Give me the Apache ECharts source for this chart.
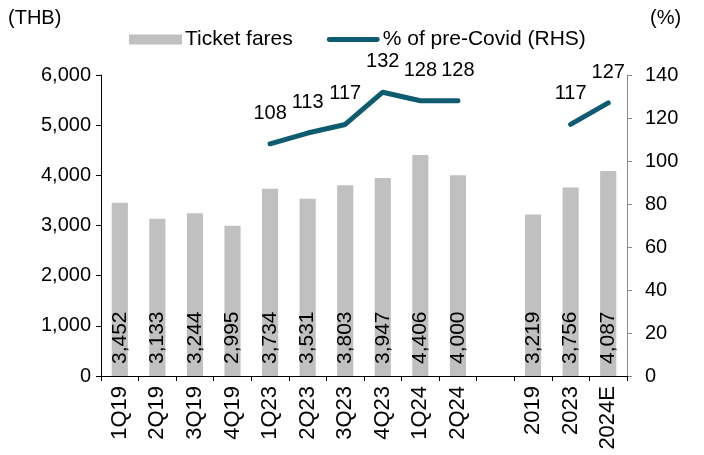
<!DOCTYPE html>
<html>
<head>
<meta charset="utf-8">
<script src="https://cdn.jsdelivr.net/npm/echarts@6/dist/echarts.min.js"></script>
<style>
  html, body { margin: 0; padding: 0; background: #fff; }
  #main { width: 704px; height: 455px; }
</style>
</head>
<body>
<div id="main"></div>
<script>
var categories = ['1Q19', '2Q19', '3Q19', '4Q19', '1Q23', '2Q23', '3Q23', '4Q23', '1Q24', '2Q24', '', '2019', '2023', '2024E'];
var ticketFares = [3452, 3133, 3244, 2995, 3734, 3531, 3803, 3947, 4406, 4000, null, 3219, 3756, 4087];
var preCovidPct = [null, null, null, null, 108, 113, 117, 132, 128, 128, null, null, 117, 127];
var leftTicks = [0, 6000, 1000];
var rightTicks = [0, 140, 20];

var font = 'Liberation Sans, Arial, sans-serif';
var lineColor = '#0f5b70';
var myChart = echarts.init(document.getElementById('main'));

var option = {
    animation: false,
    textStyle: { fontFamily: font },
    grid: { left: 101, right: 77, top: 75, bottom: 79 },
    graphic: [
        { type: 'text', left: 8, top: 8, style: { text: '(THB)', font: '20px ' + font, fill: '#000' } },
        { type: 'text', left: 650, top: 8, style: { text: '(%)', font: '20px ' + font, fill: '#000' } }
    ],
    legend: {
        left: 124, top: 24,
        itemGap: 34,
        itemWidth: 53,
        itemHeight: 10,
        textStyle: { fontSize: 21, color: '#000', padding: [0, 0, 0, -2] },
        data: [
            { name: 'Ticket fares', icon: 'rect' },
            { name: '% of pre-Covid (RHS)', icon: 'path://M2,0 L51,0 A2.5,2.5 0 0 1 51,5 L2,5 A2.5,2.5 0 0 1 2,0 Z' }
        ]
    },
    xAxis: {
        type: 'category',
        data: categories,
        axisLine: { lineStyle: { color: '#000', width: 1 } },
        axisTick: { show: true, length: 5, lineStyle: { color: '#000' } },
        axisLabel: { rotate: 90, fontSize: 22, color: '#000', margin: 10, interval: 0 }
    },
    yAxis: [
        {
            type: 'value',
            min: leftTicks[0], max: leftTicks[1], interval: leftTicks[2],
            splitLine: { show: false },
            axisLine: { show: true, lineStyle: { color: '#000' } },
            axisTick: { show: true, length: 5, lineStyle: { color: '#000' } },
            axisLabel: {
                fontSize: 20, color: '#000', margin: 10,
                formatter: function (v) { return v.toLocaleString('en-US'); }
            }
        },
        {
            type: 'value',
            min: rightTicks[0], max: rightTicks[1], interval: rightTicks[2],
            splitLine: { show: false },
            axisLine: { show: true, lineStyle: { color: '#888' } },
            axisTick: { show: true, length: 5, lineStyle: { color: '#888' } },
            axisLabel: { fontSize: 20, color: '#000', margin: 18 }
        }
    ],
    series: [
        {
            name: 'Ticket fares',
            type: 'bar',
            data: ticketFares,
            barWidth: '43%',
            itemStyle: { color: '#c0c0c0' },
            label: {
                show: true,
                position: 'insideBottom',
                rotate: 90,
                align: 'left',
                verticalAlign: 'middle',
                distance: 12,
                fontSize: 21,
                color: '#000',
                formatter: function (p) { return p.value.toLocaleString('en-US'); }
            }
        },
        {
            name: '% of pre-Covid (RHS)',
            type: 'line',
            yAxisIndex: 1,
            data: preCovidPct,
            connectNulls: false,
            symbol: 'circle',
            symbolSize: 1,
            itemStyle: { color: lineColor },
            lineStyle: { color: lineColor, width: 5, cap: 'round', join: 'round' },
            label: {
                show: true,
                position: 'top',
                distance: 20,
                fontSize: 20,
                color: '#000'
            }
        }
    ]
};
myChart.setOption(option);
</script>
</body>
</html>
